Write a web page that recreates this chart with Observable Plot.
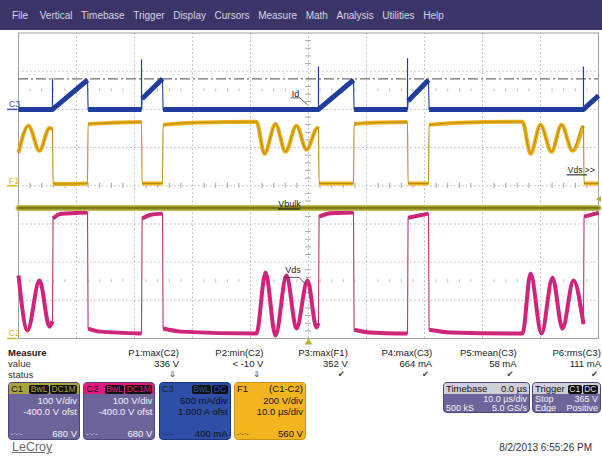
<!DOCTYPE html>
<html>
<head>
<meta charset="utf-8">
<script src="https://cdn.jsdelivr.net/npm/d3@7"></script>
<script src="https://cdn.jsdelivr.net/npm/@observablehq/plot@0.6"></script>
<style>
html,body{margin:0;padding:0;background:#fff;}
body{width:602px;height:458px;position:relative;overflow:hidden;font-family:"Liberation Sans",Arial,Helvetica,sans-serif;}
#menu{position:absolute;left:0;top:0;width:602px;height:30px;background:#3b3468;display:flex;align-items:center;padding-left:12px;box-sizing:border-box;gap:8.6px;font-size:10px;color:#d6d4e4;}
#menu span:first-child{margin-right:3px;}
#scope{position:absolute;left:0;top:30px;}
#scope svg{overflow:visible;}
.t{position:absolute;font-size:9.5px;color:#222;white-space:nowrap;line-height:11px;}
.box{position:absolute;box-sizing:border-box;border-radius:4px;overflow:hidden;font-size:9.5px;line-height:10px;}
.hdr{height:11px;line-height:11px;display:flex;justify-content:space-between;align-items:center;padding:0 2px;}
.badge{background:#111;border-radius:2px;padding:0 1.5px;font-size:8.5px;line-height:9px;margin-left:1px;display:inline-block;}
.row{display:flex;justify-content:space-between;padding:0 2px;white-space:nowrap;}
.r{text-align:right;padding:0 2px;white-space:nowrap;}
.small .row,.small .r{font-size:9px;line-height:8.6px;}
</style>
</head>
<body>
<div id="menu"></div>
<div id="scope"></div>
<div id="bottom"></div>
<script>
// ---------- data ----------
const menuItems = ["File","Vertical","Timebase","Trigger","Display","Cursors","Measure","Math","Analysis","Utilities","Help"];

// channel settings (C1, C2, C3, F1)
const chanNames = ["C1","C2","C3","F1"];
const perDiv = [100, 100, 0.5, 200];
const offsets = [-400, -400, 1.0, 0];
const chanBadges = [["BwL","DC1M"],["BwL","DC1M"],["BwL","DC"],[]];
const chanLine1 = ["100 V/div","100 V/div","500 mA/div","200 V/div"];
const chanLine2 = ["-400.0 V ofst","-400.0 V ofst","1.000 A ofst","10.0 µs/div"];
const chanBottom = ["680 V","680 V","400 mA","560 V"];
const f1Formula = "(C1-C2)";

// time axis in µs (10 µs/div, centred on 0)
const timeDomain = [-50, 50];

// C1 (Vbulk), volts
const c1T = [-50, 0, 50];
const c1V = [342, 342, 342];

// C2 (Vds), volts
const c2T = [-50,-48.45,-46.38,-44.66,-44.14,-44.04,-42.8,-38.1,-38.0,-35.9,-28.79,-28.69,-27.2,-25.17,-25.07,-22,-8.97,-7.41,-5.69,-3.79,-2.07,-0.17,1.38,1.72,1.82,3.8,7.76,7.86,10.5,17.07,17.17,20.69,20.79,24.5,36.9,38.28,40.17,42.07,43.79,45.69,47.41,47.51,50];
const c2V = [165,21,152,31,45,314,326,330,26,18,13,314,324,327,26,18,13,173,8,165,26,152,29,40,319,328,330,23,16,13,316,327,23,16,13,170,13,159,26,152,38,319,329];

// C3 (Id), amps
const c3T = [-50,-44.14,-38.10,-38.0,-28.79,-28.69,-25.17,-25.07,1.72,7.76,7.86,17.07,17.17,20.69,20.79,47.41,50];
const c3A = [0,0,0.385,0,0,0.14,0.40,0,0,0.385,0,0,0.11,0.385,0,0,0.18];
const c3SpikeT = [-44.14,-28.79,1.72,17.07,47.41];
const c3SpikeA = [0.40,0.647,0.555,0.664,0.555];
const c3Cursor = 0.4;

// F1 = C1 - C2, volts
const f1T = [-50,-48.28,-46.38,-44.66,-44.14,-44.04,-43.2,-38.1,-38.0,-35,-28.79,-28.69,-25.17,-25.07,-20,-8.97,-7.59,-5.69,-3.97,-2.07,-0.34,1.55,1.72,1.82,7.76,7.86,11,17.07,17.17,20.69,20.79,26,36.9,38.28,40.0,41.9,43.62,45.52,47.33,47.41,47.51,50];
const f1V = [173,314,183,303,296,12,9,12,323,328,334,12,12,319,330,335,167,324,178,314,188,303,298,12,12,323,330,334,12,12,319,330,335,167,319,178,319,183,314,310,12,12];

const triggerLevel = 365;

// measurements
const measNames = ["P1:max(C2)","P2:min(C2)","P3:max(F1)","P4:max(C3)","P5:mean(C3)","P6:rms(C3)"];
const measValues = ["336 V","< -10 V","352 V","664 mA","58 mA","111 mA"];
const measStatus = ["⇓","⇓","✔","✔","✔","✔"];

const timebaseInfo = ["Timebase","0.0 µs","10.0 µs/div","500 kS","5.0 GS/s"];
const triggerInfo = ["Trigger","C1","DC","Stop","365 V","Edge","Positive"];
const dateText = "8/2/2013 6:55:26 PM";
const brand = "LeCroy";

// ---------- styles ----------
const col = {
  C1: "#999628", C1in: "#5f5d10",
  C2: "#dc1d7d", C2in: "#b23773",
  C3: "#1f3e9c", C3in: "#1f3e9c",
  F1: "#ecb117", F1in: "#b88a1c",
  grid: "#b8b8b8", frame: "#a0a0a0"
};
const font = "Liberation Sans, Arial, sans-serif";

// ---------- menu ----------
const menu = document.getElementById("menu");
menuItems.forEach(m => { const s = document.createElement("span"); s.textContent = m; menu.appendChild(s); });

// ---------- scope ----------
const toDiv = (v, ch) => 4 + (v + offsets[ch]) / perDiv[ch];
function series(T, V, ch) {
  let seg = 0;
  return T.map((t, i) => {
    if (i > 0 && t - T[i - 1] < 0.15) seg++;
    return {t, y: toDiv(V[i], ch), seg};
  });
}
const c1 = series(c1T, c1V, 0);
const c2 = series(c2T, c2V, 1);
const c3 = series(c3T, c3A, 2);
const f1 = series(f1T, f1V, 3);
const spikes = c3SpikeT.map((t, i) => ({t, y1: toDiv(0, 2), y2: toDiv(c3SpikeA[i], 2)}));

const minorX = d3.range(-24, 25).map(i => i * 2).filter(v => v % 10 !== 0);
const minorY = d3.range(1, 40).filter(i => i % 5 !== 0).map(i => i / 5);

function trace(data, c, cin, w, curve) {
  return [
    Plot.line(data, {x: "t", y: "y", z: "seg", curve, stroke: c, strokeWidth: w, strokeLinejoin: "round", strokeLinecap: "butt"}),
    Plot.line(data, {x: "t", y: "y", curve, stroke: cin, strokeWidth: 1.1})
  ];
}
const lbl = (x, y, text, opts = {}) => Plot.text([text], {x, y, text: d => d, fontSize: 9, fontFamily: font, fill: "#222", textAnchor: "start", ...opts});

const scope = Plot.plot({
  width: 602, height: 312,
  marginLeft: 18, marginRight: 4, marginTop: 2.5, marginBottom: 4,
  x: {domain: timeDomain, axis: null},
  y: {domain: [0, 8], axis: null},
  style: {background: "transparent", overflow: "visible"},
  marks: [
    Plot.ruleX(d3.range(-40, 41, 10), {stroke: col.grid, strokeDasharray: "1.5,2.5"}),
    Plot.ruleY(d3.range(1, 8), {stroke: col.grid, strokeDasharray: "1.5,2.5"}),
    Plot.ruleX(minorX, {y1: 3.93, y2: 4.07, stroke: "#a8a8a8"}),
    Plot.ruleX(minorX, {y1: 1.46, y2: 1.54, stroke: "#c0c0c0"}),
    Plot.ruleX(minorX, {y1: 6.46, y2: 6.54, stroke: "#c0c0c0"}),
    Plot.ruleY(minorY, {x1: -0.5, x2: 0.5, stroke: "#a8a8a8"}),
    Plot.frame({stroke: col.frame}),
    Plot.ruleY([toDiv(c3Cursor, 2)], {stroke: "#707070", strokeDasharray: "10,3,2,3", strokeWidth: 1.2}),
    ...trace(c3, col.C3, col.C3in, 5, "linear"),
    Plot.ruleX(spikes, {x: "t", y1: "y1", y2: "y2", stroke: col.C3, strokeWidth: 1.2}),
    ...trace(f1, col.F1, col.F1in, 4, "monotone-x"),
    ...trace(c2, col.C2, col.C2in, 4, "monotone-x"),
    Plot.line(c1, {x: "t", y: "y", stroke: "#c2bf5c", strokeWidth: 6}),
    Plot.line(c1, {x: "t", y: "y", stroke: col.C1, strokeWidth: 3.5}),
    Plot.line(c1, {x: "t", y: "y", stroke: col.C1in, strokeWidth: 1}),
    // channel ground labels
    lbl(-51.7, toDiv(0, 2), "C3", {fill: "#3b56b4", dy: -5}),
    Plot.ruleY([toDiv(0, 2)], {x1: -51.9, x2: -50.1, stroke: "#3b56b4", strokeWidth: 1.5}),
    lbl(-51.7, toDiv(0, 3), "F1", {fill: "#e2b41e", dy: -5}),
    Plot.ruleY([toDiv(0, 3)], {x1: -51.9, x2: -50.1, stroke: "#e2b41e", strokeWidth: 1.5}),
    lbl(-51.7, toDiv(0, 1), "C2", {fill: "#c9bb2e", dy: -5}),
    Plot.ruleY([toDiv(0, 1)], {x1: -51.9, x2: -50.1, stroke: "#c9bb2e", strokeWidth: 1.5}),
    // trace labels
    lbl(-2.9, toDiv(0.2, 2), "Id"),
    Plot.line([[-3.0, 0.15], [-1.5, 0.15], [-0.2, 0.06]], {x: d => d[0], y: d => toDiv(d[1], 2), stroke: "#333", strokeWidth: 0.8}),
    lbl(-5.2, toDiv(351, 0), "Vbulk"),
    Plot.ruleY([toDiv(339, 0)], {x1: -5.2, x2: -1.4, stroke: "#111", strokeWidth: 1}),
    lbl(-4.0, toDiv(178, 1), "Vds"),
    Plot.line([[-4.3, 160], [-1.6, 160], [-0.6, 143]], {x: d => d[0], y: d => toDiv(d[1], 1), stroke: "#333", strokeWidth: 0.8}),
    lbl(44.7, toDiv(80, 3), "Vds >>", {fontSize: 8.5}),
    Plot.ruleY([toDiv(57, 3)], {x1: 44.6, x2: 48.1, stroke: "#111", strokeWidth: 1}),
    // trigger markers
    Plot.dot([triggerLevel], {x: 50.15, y: v => toDiv(v, 0), symbol: "triangle", r: 2.2, rotate: -90, fill: "#b3ad2a", stroke: "none"}),
    Plot.dot([0], {x: d => d, y: -0.1, symbol: "triangle", r: 2.8, fill: "#b9b22b", stroke: "none"})
  ]
});
document.getElementById("scope").appendChild(scope);

// ---------- bottom panel ----------
const bottom = document.getElementById("bottom");
function add(html) { bottom.insertAdjacentHTML("beforeend", html); }

add(`<div class="t" style="left:8px;top:347px;font-weight:bold;">Measure</div>`);
add(`<div class="t" style="left:8px;top:358px;color:#333;">value</div>`);
add(`<div class="t" style="left:8px;top:369px;color:#333;">status</div>`);
measNames.forEach((n, i) => {
  const right = 602 - (179 + i * 84.4);
  add(`<div class="t" style="right:${right}px;top:347px;text-align:right;">${n}</div>`);
  add(`<div class="t" style="right:${right}px;top:358px;text-align:right;">${measValues[i]}</div>`);
  add(`<div class="t" style="right:${right + 3}px;top:369px;text-align:right;color:#444;font-family:'DejaVu Sans',sans-serif;font-size:8.5px;">${measStatus[i]}</div>`);
});

const hdrColor = {C1: "#aaa53a", C2: "#e4197d", C3: "#2e4ea8", F1: "#f4b51e"};
const bodyColor = {C1: "#6c649b", C2: "#6c649b", C3: "#2e4ea8", F1: "#f4b51e"};
const borderColor = {C1: "#4c467a", C2: "#4c467a", C3: "#1c3580", F1: "#c99318"};
const textColor = {C1: "#f4f4f4", C2: "#f4f4f4", C3: "#111", F1: "#111"};
const headTextColor = {C1: "#111", C2: "#111", C3: "#222", F1: "#111"};

chanNames.forEach((c, i) => {
  const left = 8 + i * 75.3;
  const badges = chanBadges[i].map(b => `<span class="badge" style="color:${hdrColor[c]}">${b}</span>`).join("");
  const right = c === "F1" ? `<span>${f1Formula}</span>` : `<span>${badges}</span>`;
  add(`<div class="box" style="left:${left}px;top:382px;width:72px;height:58px;background:${bodyColor[c]};border:1px solid ${borderColor[c]};color:${textColor[c]};">
    <div class="hdr" style="background:${hdrColor[c]};color:${headTextColor[c]};"><span>${c}</span>${right}</div>
    <div class="r" style="margin-top:2px;">${chanLine1[i]}</div>
    <div class="r" style="margin-top:0.5px;">${chanLine2[i]}</div>
    <div class="row" style="position:absolute;left:0;right:0;bottom:0.5px;"><span style="font-size:7px;opacity:0.85;">-·-·-</span><span>${chanBottom[i]}</span></div>
  </div>`);
});

add(`<div class="box small" style="left:443px;top:382px;width:87px;height:31px;background:#6c649b;border:1px solid #4c467a;color:#f4f4f4;">
  <div class="hdr" style="background:#cfcfd8;color:#111;"><span>${timebaseInfo[0]}</span><span>${timebaseInfo[1]}</span></div>
  <div class="r" style="margin-top:1px;">${timebaseInfo[2]}</div>
  <div class="row"><span>${timebaseInfo[3]}</span><span>${timebaseInfo[4]}</span></div>
</div>`);
add(`<div class="box small" style="left:532px;top:382px;width:69px;height:31px;background:#6c649b;border:1px solid #4c467a;color:#f4f4f4;">
  <div class="hdr" style="background:#cfcfd8;color:#111;"><span>${triggerInfo[0]}</span><span><span class="badge" style="color:#ddd">${triggerInfo[1]}</span><span class="badge" style="color:#ddd">${triggerInfo[2]}</span></span></div>
  <div class="row" style="margin-top:1px;"><span>${triggerInfo[3]}</span><span>${triggerInfo[4]}</span></div>
  <div class="row"><span>${triggerInfo[5]}</span><span>${triggerInfo[6]}</span></div>
</div>`);

add(`<div class="t" style="left:12px;top:441px;font-size:12.5px;line-height:13px;color:#6a6a6a;text-decoration:underline;">${brand}</div>`);
add(`<div class="t" style="right:10px;top:442px;font-size:10px;color:#333;">${dateText}</div>`);
</script>
</body>
</html>
